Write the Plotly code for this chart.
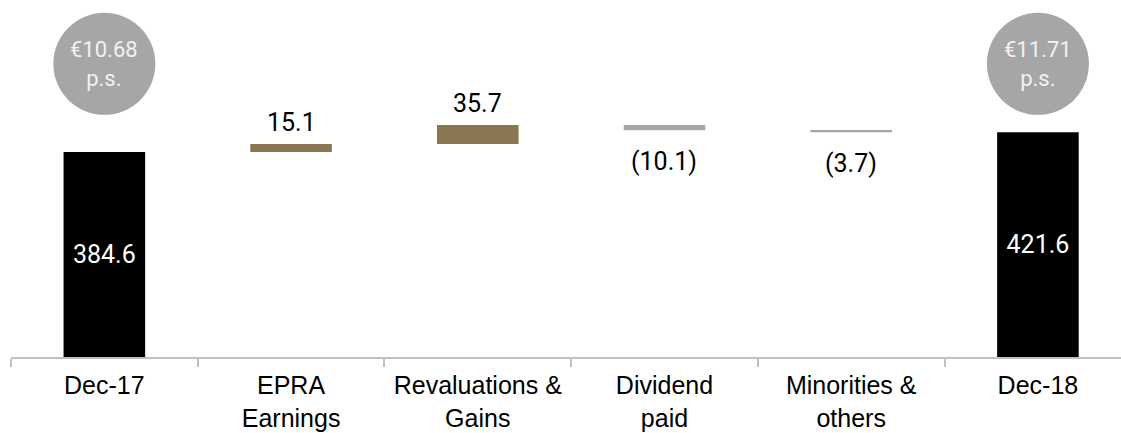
import plotly.graph_objects as go

# NAV bridge, EUR millions
categories = ["Dec-17", "EPRA<br>Earnings", "Revaluations &<br>Gains",
              "Dividend<br>paid", "Minorities &<br>others", "Dec-18"]
measures = ["absolute", "relative", "relative", "relative", "relative", "absolute"]
values = [384.6, 15.1, 35.7, -10.1, -3.7, 421.6]
value_labels = ["384.6", "15.1", "35.7", "(10.1)", "(3.7)", "421.6"]

# NAV per share shown in badges above the opening / closing bars
badge_categories = ["Dec-17", "Dec-18"]
badge_amounts = ["€10.68", "€11.71"]
badge_unit = "p.s."

BLACK = "#000000"
GOLD = "#8A7650"
GREY = "#A6A6A6"
AXIS_GREY = "#BFBFBF"
BADGE_Y = 550
LABEL_FONT = dict(family="Roboto", size=25, color="#000000")

fig = go.Figure()

fig.add_trace(go.Waterfall(
    x=categories,
    y=values,
    measure=measures,
    text=value_labels,
    textposition=["inside" if m == "absolute" else "none" for m in measures],
    insidetextanchor="middle",
    insidetextfont=dict(family="Roboto", size=25, color="#FFFFFF"),
    width=0.437,
    connector=dict(visible=False),
    increasing=dict(marker=dict(color=GOLD, line=dict(width=0))),
    decreasing=dict(marker=dict(color=GREY, line=dict(width=0))),
    totals=dict(marker=dict(color=BLACK, line=dict(width=0))),
    hoverinfo="skip",
))

# grey per-share badges
fig.add_trace(go.Scatter(
    x=badge_categories,
    y=[BADGE_Y] * len(badge_categories),
    mode="markers",
    marker=dict(size=102, color=GREY, line=dict(width=0)),
    hoverinfo="skip",
))

annotations = []
level = 0.0
for cat, m, v, lab in zip(categories, measures, values, value_labels):
    if m == "absolute":
        level = v
        continue
    level += v
    annotations.append(dict(
        x=cat, y=level, text=lab, showarrow=False, yanchor="middle",
        yshift=21 if v > 0 else -31, font=LABEL_FONT,
    ))

for cat, amt in zip(badge_categories, badge_amounts):
    annotations.append(dict(
        x=cat, y=BADGE_Y, text=f"{amt}<br>{badge_unit}", showarrow=False,
        yanchor="middle", yshift=0,
        font=dict(family="Roboto", size=22, color="#F2F2F2"),
    ))

fig.update_layout(
    width=1121,
    height=433,
    margin=dict(l=11, r=0, t=0, b=76),
    paper_bgcolor="white",
    plot_bgcolor="white",
    showlegend=False,
    annotations=annotations,
    xaxis=dict(
        type="category",
        range=[-0.5, 5.445],
        automargin=False,
        showline=True,
        linecolor=AXIS_GREY,
        linewidth=2,
        ticks="outside",
        tickson="boundaries",
        ticklen=8,
        tickwidth=1.5,
        tickcolor=AXIS_GREY,
        ticklabelstandoff=5,
        showgrid=False,
        tickfont=dict(family="Liberation Sans", size=25, color="#000000"),
    ),
    yaxis=dict(range=[0, 669.8], visible=False, automargin=False),
)

fig.write_html("out.html")
